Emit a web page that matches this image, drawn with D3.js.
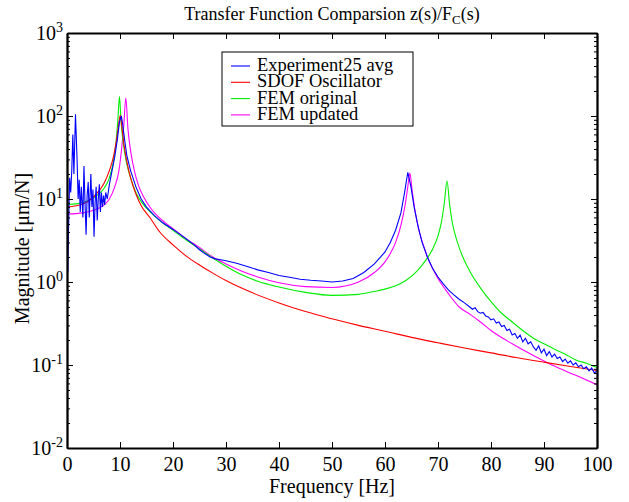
<!DOCTYPE html>
<html lang="en">
<meta charset="utf-8">
<head>
  <title>Transfer Function Comparison</title>
  <style>
  body { margin: 0; background: #fff; }
  svg { display: block; }
  text { font-family: "Liberation Serif", "Times New Roman", serif; fill: #000; }
  .axis path, .axis line { stroke: #000; }
  .axis path { stroke-width: 1.8px; }
  .line { fill: none; stroke-width: 1.1px; }
  </style>
</head>
<body>
<svg width="629" height="502"></svg>
<script src="https://cdn.jsdelivr.net/npm/d3@7/dist/d3.min.js"></script>
<script>

// ---- data: [frequency Hz, magnitude um/N] ----
var experiment = [
  [0.0,2.0],[0.15,1.3],[0.3,4.5],[0.5,18],[0.7,12],[0.9,22],[1.1,60],[1.3,20],[1.6,105],[1.9,30],
  [2.1,10],[2.3,17],[2.5,7],[2.7,14],[3.0,6],[3.2,25],[3.4,9],[3.6,3.7],[3.8,11],[4.0,16],
  [4.2,6],[4.5,20],[4.7,8],[4.9,13],[5.1,3.5],[5.3,9],[5.5,14],[5.7,5.5],[5.9,10],[6.1,15],
  [6.3,7],[6.5,12],[6.7,8],[6.9,11],[7.1,8.5],[7.3,12],[7.6,10],[8.0,15],[8.5,22],[9.0,32],
  [9.5,52],[9.9,85],[10.25,100],[10.5,80],[10.9,50],[11.3,33],[12,22],[13,14],[14,10],[15,8],
  [16.5,6.3],[18,5.2],[20,4.3],[22,3.5],[24,2.8],[25,2.45],[26,2.2],[27,2.0],[28,1.9],[29,1.85],
  [30,1.8],[31,1.74],[32,1.68],[34,1.54],[36,1.4],[38,1.3],[40,1.2],[42,1.14],[44,1.08],[46,1.05],
  [48,1.03],[50,1.0],[52,1.03],[54,1.1],[56,1.3],[58,1.65],[60,2.3],[61,3.0],[62,4.2],[63,6.8],
  [63.7,12],[64.3,21],[64.9,14],[65.5,8],[66.3,4.5],[67,3.0],[68,2.0],[69,1.45],[70,1.15],[71,0.95],
  [72,0.8],[73,0.7],[74,0.62],[75,0.56],[76,0.5],[76.5,0.47],[77,0.49],[77.5,0.44],[78,0.42],[78.5,0.43],
  [79,0.39],[79.5,0.38],[80,0.35],[80.5,0.36],[81,0.32],[81.5,0.33],[82,0.29],[82.5,0.3],[83,0.26],[83.5,0.27],
  [84,0.23],[84.5,0.24],[85,0.21],[85.5,0.23],[86,0.19],[86.5,0.21],[87,0.18],[87.5,0.19],[88,0.165],[88.5,0.15],
  [89,0.17],[89.5,0.14],[90,0.155],[90.5,0.13],[91,0.145],[91.5,0.125],[92,0.135],[92.5,0.12],[93,0.125],[93.5,0.11],
  [94,0.118],[94.5,0.105],[95,0.112],[95.5,0.1],[96,0.106],[96.5,0.095],[97,0.1],[97.5,0.09],[98,0.095],[98.5,0.085],
  [99,0.092],[99.5,0.08],[100,0.085]
];

var sdof = [
  [0,8.0],[3,8.7],[5,10.6],[7,15.5],[8,22],[8.8,33],[9.3,50],[9.7,75],[10.05,102],[10.4,70],
  [10.8,43],[11.3,28],[12,18],[13,11.5],[14,8.3],[15.7,5.9],[17.5,4.0],[20,2.8],[22.5,2.05],[25,1.6],
  [27.5,1.28],[30,1.04],[35,0.74],[40,0.56],[45,0.44],[50,0.36],[55,0.3],[60,0.255],[65,0.215],[70,0.185],
  [75,0.16],[80,0.14],[85,0.122],[90,0.108],[95,0.096],[100,0.086]
];

var femOriginal = [
  [0,8.6],[2,8.8],[4,9.5],[6,11.5],[7,13.5],[8,18],[8.7,27],[9.2,45],[9.6,90],[9.9,172],
  [10.2,85],[10.6,48],[11.2,28],[12,18],[13,12],[14,9.3],[15.7,7],[17.5,5.5],[20,4.2],[22.5,3.2],
  [25,2.5],[27.5,1.95],[30,1.55],[33,1.22],[36,1.02],[40,0.87],[45,0.75],[50,0.69],[55,0.71],[58,0.77],
  [60,0.82],[62,0.9],[64,1.05],[65.5,1.25],[67,1.6],[68,1.95],[69,2.5],[70,3.6],[70.7,5.5],[71.2,9],
  [71.7,16.5],[72.2,8.5],[72.7,5.2],[73.3,3.6],[74,2.6],[75,1.8],[76,1.35],[78,0.85],[80,0.58],[82,0.42],
  [84,0.33],[86,0.26],[88,0.21],[90,0.18],[92,0.155],[94,0.135],[96,0.115],[98,0.105],[100,0.093]
];

var femUpdated = [
  [0,6.6],[3,6.8],[5,7.3],[7,8.5],[8,10],[9,14],[9.8,22],[10.3,40],[10.7,75],[11.1,165],
  [11.5,70],[12,38],[12.7,22],[13.5,14.5],[14.5,10.5],[15.7,7.9],[17,6.3],[18.5,5.2],[20,4.4],[22.5,3.3],
  [25,2.6],[27.5,2.0],[30,1.65],[33,1.35],[36,1.15],[40,0.98],[45,0.88],[50,0.86],[55,1.0],[58,1.3],
  [60,1.75],[61,2.2],[62,3.0],[63,4.8],[63.8,8.5],[64.3,14],[64.7,20.5],[65.1,13],[65.7,7],[66.5,4.0],
  [67.3,2.7],[68,2.0],[69,1.45],[70,1.1],[72,0.72],[74,0.5],[76,0.41],[78,0.33],[80,0.26],[84,0.18],
  [88,0.13],[91.5,0.1],[96,0.075],[100,0.058]
];

var seriesNames = ["Experiment25 avg", "SDOF Oscillator", "FEM original", "FEM updated"];
var seriesColors = ["#0000ff", "#ff0000", "#00ee00", "#ff00ff"];
var xTicks = [0, 10, 20, 30, 40, 50, 60, 70, 80, 90, 100];
var yExponents = [-2, -1, 0, 1, 2, 3];

var svg = d3.select("svg"),
    margin = {top: 33, right: 32, bottom: 54, left: 67},
    width = 629 - margin.left - margin.right,
    height = 502 - margin.top - margin.bottom,
    g = svg.append("g").attr("transform", "translate(" + margin.left + "," + margin.top + ")");

var x = d3.scaleLinear().domain([0, 100]).range([0, width]);
var y = d3.scaleLog().domain([0.01, 1000]).range([height, 0]);

// minor log ticks
var minorTicks = [];
yExponents.slice(0, -1).forEach(function(e) {
  for (var k = 2; k <= 9; k++) minorTicks.push(k * Math.pow(10, e));
});
var majorTicks = yExponents.map(function(e) { return Math.pow(10, e); });

g.append("defs").append("clipPath").attr("id", "clip")
  .append("rect").attr("width", width).attr("height", height);

// lines
var line = d3.line()
    .x(function(d) { return x(d[0]); })
    .y(function(d) { return y(d[1]); });

var data = [experiment, sdof, femOriginal, femUpdated];
var lines = g.append("g").attr("clip-path", "url(#clip)");
[3, 2, 1, 0].forEach(function(i) {
  lines.append("path")
      .datum(data[i])
      .attr("class", "line")
      .attr("stroke", seriesColors[i])
      .attr("d", line.curve(i === 0 ? d3.curveLinear : d3.curveMonotoneX));
});

// axes
g.append("g").attr("class", "axis")
    .attr("transform", "translate(0," + height + ")")
    .call(d3.axisBottom(x).tickValues(xTicks).tickSizeInner(-6).tickSizeOuter(0).tickPadding(8))
    .call(function(s) { s.selectAll("text").style("font-size", "20px").attr("dy", "0.75em"); });
g.append("g").attr("class", "axis")
    .call(d3.axisTop(x).tickValues(xTicks).tickSizeInner(-6).tickSizeOuter(0).tickFormat(""));

function yAxis(sel, right) {
  var ax = right ? d3.axisRight(y) : d3.axisLeft(y);
  sel.append("g").call(ax.tickValues(majorTicks).tickSizeInner(-6).tickSizeOuter(0).tickFormat(""));
  sel.append("g").call((right ? d3.axisRight(y) : d3.axisLeft(y))
      .tickValues(minorTicks).tickSizeInner(-3).tickSizeOuter(0).tickFormat(""));
}
g.append("g").attr("class", "axis").call(yAxis, false);
g.append("g").attr("class", "axis").attr("transform", "translate(" + width + ",0)").call(yAxis, true);

// y tick labels 10^n
var ylab = g.append("g").selectAll("text")
  .data(yExponents).enter().append("text")
    .attr("x", -4)
    .attr("y", function(e) { return y(Math.pow(10, e)) + 7; })
    .attr("text-anchor", "end")
    .style("font-size", "20px");
ylab.append("tspan").text("10");
ylab.append("tspan").attr("dy", "-8").style("font-size", "14px").text(function(e) { return e; });

// axis titles
g.append("text")
    .attr("x", width / 2).attr("y", height + 45)
    .attr("text-anchor", "middle").style("font-size", "20px")
    .text("Frequency [Hz]");
g.append("text")
    .attr("transform", "translate(-38," + (height / 2 + 8) + ") rotate(-90)")
    .attr("text-anchor", "middle").style("font-size", "20px")
    .text("Magnitude [\u03bcm/N]");

var title = g.append("text")
    .attr("x", width / 2).attr("y", -13)
    .attr("text-anchor", "middle").style("font-size", "18px");
title.append("tspan").text("Transfer Function Comparsion z(s)/F");
title.append("tspan").attr("dy", 4).style("font-size", "13px").text("C");
title.append("tspan").attr("dy", -4).text("(s)");

// legend
var legend = svg.append("g").attr("transform", "translate(222,52)");
legend.append("rect")
    .attr("width", 191).attr("height", 74)
    .attr("fill", "#fff").attr("stroke", "#000").attr("stroke-width", 1);
seriesNames.forEach(function(name, i) {
  var yy = 14 + i * 16.3;
  legend.append("line")
      .attr("x1", 9).attr("x2", 28).attr("y1", yy).attr("y2", yy)
      .attr("stroke", seriesColors[i]).attr("stroke-width", 1.1);
  legend.append("text")
      .attr("x", 35).attr("y", yy + 5)
      .style("font-size", "18.5px")
      .text(name);
});

</script>
</body>
</html>
